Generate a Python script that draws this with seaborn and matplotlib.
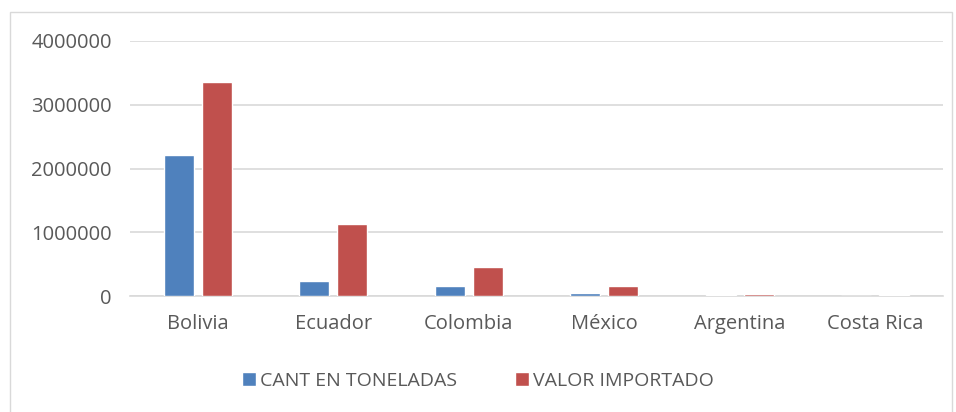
import numpy as np
import pandas as pd
import matplotlib.pyplot as plt
import seaborn as sns
from matplotlib.patches import Rectangle

# data
paises = ['Bolivia', 'Ecuador', 'Colombia', 'México', 'Argentina', 'Costa Rica']
cant_toneladas = [2215000, 230000, 150000, 50000, 10000, 2000]
valor_importado = [3355000, 1130000, 460000, 155000, 25000, 18000]
series = ['CANT EN TONELADAS', 'VALOR IMPORTADO']
yticks = [0, 1000000, 2000000, 3000000, 4000000]

df = pd.DataFrame({
    'pais': paises * 2,
    'serie': [series[0]] * len(paises) + [series[1]] * len(paises),
    'valor': cant_toneladas + valor_importado,
})

sns.set_theme(style='white')
plt.rcParams['font.family'] = ['Open Sans', 'DejaVu Sans']

fig = plt.figure(figsize=(9.56, 4.12), dpi=100)
ax = fig.add_axes([130 / 956, 1 - 296 / 412, 813 / 956, 255 / 412])

sns.barplot(data=df, x='pais', y='valor', hue='serie', ax=ax,
            palette=['#4F81BD', '#C0504D'], width=0.56, gap=0.22,
            saturation=1, zorder=3)

ax.set_ylim(0, 4000000)
ax.set_xlim(-0.5, len(paises) - 0.5)
ax.set_yticks(yticks)
ax.set_yticklabels([str(v) for v in yticks])
ax.yaxis.grid(True, color='#D9D9D9', linewidth=1.2, zorder=0)
ax.set_axisbelow(True)
for s in ['top', 'right', 'left']:
    ax.spines[s].set_visible(False)
ax.spines['bottom'].set_color('#D9D9D9')
ax.spines['bottom'].set_linewidth(1.2)
ax.tick_params(axis='both', length=0, labelsize=14.5, colors='#595959')
ax.tick_params(axis='y', pad=13)
ax.tick_params(axis='x', pad=13)
ax.set_xlabel('')
ax.set_ylabel('')

handles, labels = ax.get_legend_handles_labels()
ax.legend(handles, labels, loc='center', bbox_to_anchor=(0.5, 1 - 381 / 412),
          bbox_transform=fig.transFigure, ncol=2, frameon=False,
          fontsize=14, labelcolor='#595959', handlelength=0.7,
          handleheight=0.7, handletextpad=0.2, columnspacing=3.0)

# outer chart border
fig.patches.append(Rectangle((10 / 956, -0.01), 942 / 956, 1 - 12 / 412 + 0.01,
                             transform=fig.transFigure, fill=False,
                             edgecolor='#D9D9D9', linewidth=1))

fig.savefig('out.png', dpi=100)
